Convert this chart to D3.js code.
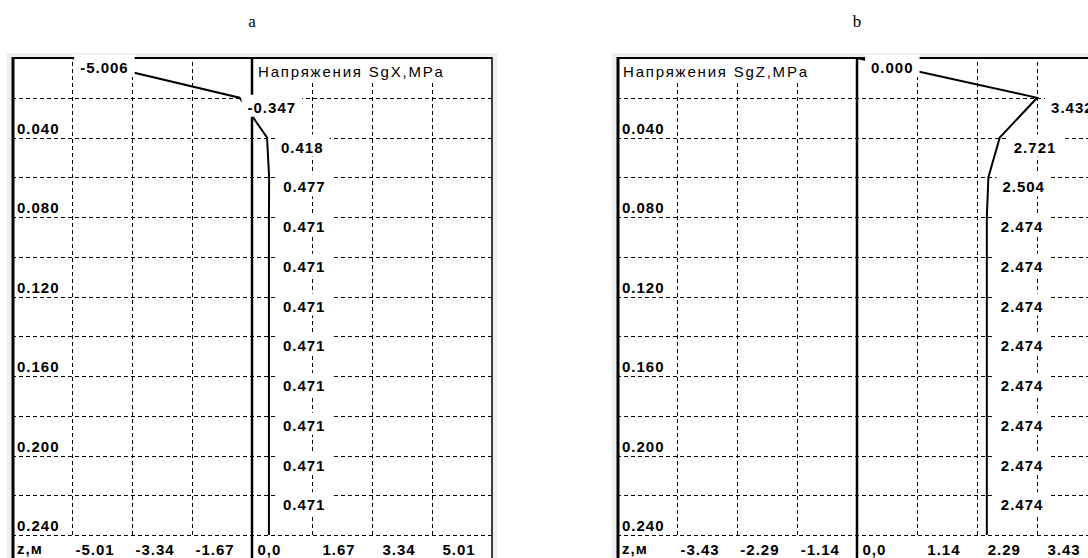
<!DOCTYPE html>
<html>
<head>
<meta charset="utf-8">
<script src="https://cdn.jsdelivr.net/npm/d3@7"></script>
<style>
	body { margin:0; background:#fff; }
	text { font-family:"Liberation Sans", Arial, sans-serif; fill:#000; }
	.grid line { stroke:#000; stroke-width:1; stroke-dasharray:4,3; shape-rendering:crispEdges; }
	.grid path { display:none; }
	.num { font-size:15px; font-weight:bold; letter-spacing:1px; }
</style>
</head>
<body>
<svg id="fig" width="1088" height="558"></svg>
<script>

// depth of each point, m
var depth = [0, 0.02, 0.04, 0.06, 0.08, 0.10, 0.12, 0.14, 0.16, 0.18, 0.20, 0.22, 0.24];

// stresses, MPa
var sgX = [-5.006, -0.347, 0.418, 0.477, 0.471, 0.471, 0.471, 0.471, 0.471, 0.471, 0.471, 0.471, 0.471];
var sgZ = [0.000, 3.432, 2.721, 2.504, 2.474, 2.474, 2.474, 2.474, 2.474, 2.474, 2.474, 2.474, 2.474];

// row labels on the depth axis
var rowDepths = [0.04, 0.08, 0.12, 0.16, 0.20, 0.24];
var rowLabels = ["0.040", "0.080", "0.120", "0.160", "0.200", "0.240"];

// stress axis ticks
var ticksX = [-5.01, -3.34, -1.67, 0, 1.67, 3.34, 5.01];
var tickLabelsX = ["-5.01", "-3.34", "-1.67", "0,0", "1.67", "3.34", "5.01"];
var ticksZ = [-3.43, -2.29, -1.14, 0, 1.14, 2.29, 3.43];
var tickLabelsZ = ["-3.43", "-2.29", "-1.14", "0,0", "1.14", "2.29", "3.43"];

var titles = ["Напряжения SgX,MPa", "Напряжения SgZ,MPa"];
var captions = ["a", "b"];

function stressPanel(){

	var left = 12, width = 480, top = 58, bottom = 535,
		values = [], ticks = [], tickLabels = [],
		title = "", titleLeft = true, caption = "";

	function chart(svg){

		var step = ticks[ticks.length-1] / 3,
			x = d3.scaleLinear().domain([-4*step, 4*step]).range([left, left+width]),
			y = d3.scaleLinear().domain([0, depth[depth.length-1]]).range([top, bottom]);

		var g = svg.append("g");

		// window background + plot area
		g.append("rect").attr("x", left-5).attr("y", 53).attr("width", width+10).attr("height", 520)
			.attr("fill", "#efefef");
		g.append("rect").attr("x", left).attr("y", top).attr("width", width).attr("height", 520)
			.attr("fill", "#fff");

		// horizontal grid
		g.append("g").attr("class", "grid")
			.attr("transform", "translate(" + (left+width) + ",0)")
			.call(d3.axisLeft(y).tickValues(depth.slice(1)).tickSize(width).tickFormat(""));

		// vertical grid (zero drawn as axis)
		g.append("g").attr("class", "grid")
			.attr("transform", "translate(0," + bottom + ")")
			.call(d3.axisBottom(x).tickValues(ticks.filter(function(t){ return t !== 0; }))
				.tickSize(-(bottom-top)).tickFormat(""));

		// zero axis
		g.append("line").attr("x1", x(0)).attr("x2", x(0)).attr("y1", top).attr("y2", 560)
			.attr("stroke", "#000").attr("stroke-width", 2.5);

		// stress profile
		var line = d3.line()
			.x(function(d){ return x(d[1]); })
			.y(function(d){ return y(d[0]); });
		g.append("path")
			.datum(depth.map(function(d, i){ return [d, values[i]]; }))
			.attr("d", line)
			.attr("fill", "none").attr("stroke", "#000").attr("stroke-width", 2)
			.attr("stroke-linejoin", "miter");

		// frame
		g.append("line").attr("x1", left).attr("x2", left+width).attr("y1", top).attr("y2", top)
			.attr("stroke", "#000").attr("stroke-width", 2);
		g.append("line").attr("x1", left+1).attr("x2", left+1).attr("y1", top-1).attr("y2", 560)
			.attr("stroke", "#000").attr("stroke-width", 3);
		g.append("line").attr("x1", left+width).attr("x2", left+width).attr("y1", top-1).attr("y2", 560)
			.attr("stroke", "#000").attr("stroke-width", 1.5);

		// title with white box
		var tx = titleLeft ? left + 6 : x(0) + 6;
		var tBox = g.append("rect").attr("fill", "#fff");
		var tText = g.append("text").attr("x", tx).attr("y", 77)
			.attr("font-size", "15px").attr("letter-spacing", "1.8px").text(title);
		var tw = tText.node().getComputedTextLength();
		tBox.attr("x", tx-3).attr("y", 60).attr("width", tw+6).attr("height", 22);

		// value labels, boxed, below-right of each point
		depth.slice(0, depth.length-1).forEach(function(d, i){
			var v = values[i],
				px = x(v), py = y(d),
				lx = px + (v < 0 ? 8 : 14);
			var box = g.append("rect").attr("fill", "#fff");
			var t = g.append("text").attr("class", "num")
				.attr("x", lx).attr("y", py+15).text(v.toFixed(3));
			var w = t.node().getComputedTextLength();
			box.attr("x", lx-6).attr("y", py-3).attr("width", w+12).attr("height", 22);
		});

		// depth labels
		g.selectAll(".row").data(rowDepths).enter().append("text")
			.attr("class", "num row")
			.attr("x", left+5)
			.attr("y", function(d){ return y(d) - 4; })
			.text(function(d, i){ return rowLabels[i]; });

		// stress axis labels
		var ax = g.append("g").attr("transform", "translate(0," + bottom + ")")
			.call(d3.axisBottom(x).tickValues(ticks).tickSize(0)
				.tickFormat(function(d, i){ return tickLabels[i]; }));
		ax.select(".domain").remove();
		ax.selectAll("text")
			.attr("class", "num")
			.attr("text-anchor", "start")
			.attr("font-family", null).attr("font-size", null)
			.attr("y", 20).attr("dy", 0)
			.attr("dx", function(d){ return d < 0 ? 3 : (d === 0 ? 5 : 10); });

		g.append("text").attr("class", "num").attr("x", left+5).attr("y", 554)
			.attr("font-size", "13px").attr("letter-spacing", "0.5px").text("z,м");

		// panel caption
		svg.append("text").attr("x", x(0)).attr("y", 27).attr("text-anchor", "middle")
			.style("font-family", "'Liberation Serif', 'Times New Roman', serif")
			.attr("font-size", "17px").text(caption);
	}

	chart.left = function(v){ left = v; return chart; };
	chart.values = function(v){ values = v; return chart; };
	chart.ticks = function(v, l){ ticks = v; tickLabels = l; return chart; };
	chart.title = function(v, onLeft){ title = v; titleLeft = onLeft; return chart; };
	chart.caption = function(v){ caption = v; return chart; };
	return chart;
}

var svg = d3.select("#fig");

svg.call(stressPanel().left(12).values(sgX).ticks(ticksX, tickLabelsX)
	.title(titles[0], false).caption(captions[0]));

svg.call(stressPanel().left(617).values(sgZ).ticks(ticksZ, tickLabelsZ)
	.title(titles[1], true).caption(captions[1]));

</script>
</body>
</html>
